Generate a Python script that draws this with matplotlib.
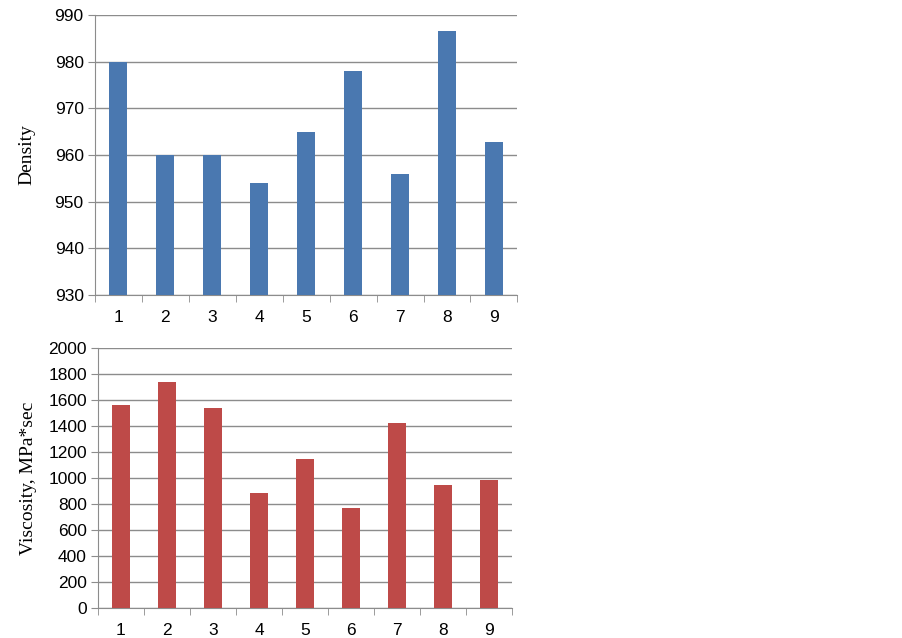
import matplotlib
matplotlib.use("Agg")
import matplotlib.pyplot as plt
import numpy as np

categories = [1, 2, 3, 4, 5, 6, 7, 8, 9]
density = [980, 960, 960, 954, 965, 978, 956, 986.6, 962.7]
viscosity = [1562, 1740, 1537, 886, 1147, 766, 1423, 947, 982]

density_ticks = [930, 940, 950, 960, 970, 980, 990]
viscosity_ticks = [0, 200, 400, 600, 800, 1000, 1200, 1400, 1600, 1800, 2000]

grid_col = "#8c8c8c"
fig = plt.figure(figsize=(9.03, 6.38), dpi=100)

def style(ax, ylim, yticks, ylabel, values, color, labelpad):
    x = np.arange(1, len(categories) + 1)
    ax.bar(x, [v - ylim[0] for v in values], bottom=ylim[0], width=0.38,
           color=color, zorder=3)
    ax.set_xlim(0.5, len(categories) + 0.5)
    ax.set_ylim(*ylim)
    ax.set_yticks(yticks)
    ax.set_yticklabels([str(t) for t in yticks], fontfamily="Liberation Sans", fontsize=12.5)
    ax.set_xticks(x)
    ax.set_xticklabels([str(c) for c in categories], fontfamily="Liberation Sans", fontsize=12.5)
    ax.set_xticks(np.arange(0.5, len(categories) + 1, 1.0), minor=True)
    ax.tick_params(axis="x", which="major", length=0, pad=11)
    ax.tick_params(axis="x", which="minor", length=5, color=grid_col, direction="out")
    ax.tick_params(axis="y", length=5, color=grid_col, pad=3)
    ax.grid(axis="y", color=grid_col, linewidth=1, zorder=0)
    for s in ["top", "right"]:
        ax.spines[s].set_visible(False)
    for s in ["left", "bottom"]:
        ax.spines[s].set_color(grid_col)
    ax.set_ylabel(ylabel, fontfamily="Liberation Serif", fontsize=14, labelpad=labelpad)

ax1 = fig.add_axes([0.105, 0.5376, 0.468, 0.439])
style(ax1, (930, 990), density_ticks, "Density", density, "#4a78b0", 14)

ax2 = fig.add_axes([0.1085, 0.047, 0.4585, 0.4075])
style(ax2, (0, 2000), viscosity_ticks, "Viscosity, MPa*sec", viscosity, "#be4a48", 8)

fig.savefig("out.png", dpi=100)
